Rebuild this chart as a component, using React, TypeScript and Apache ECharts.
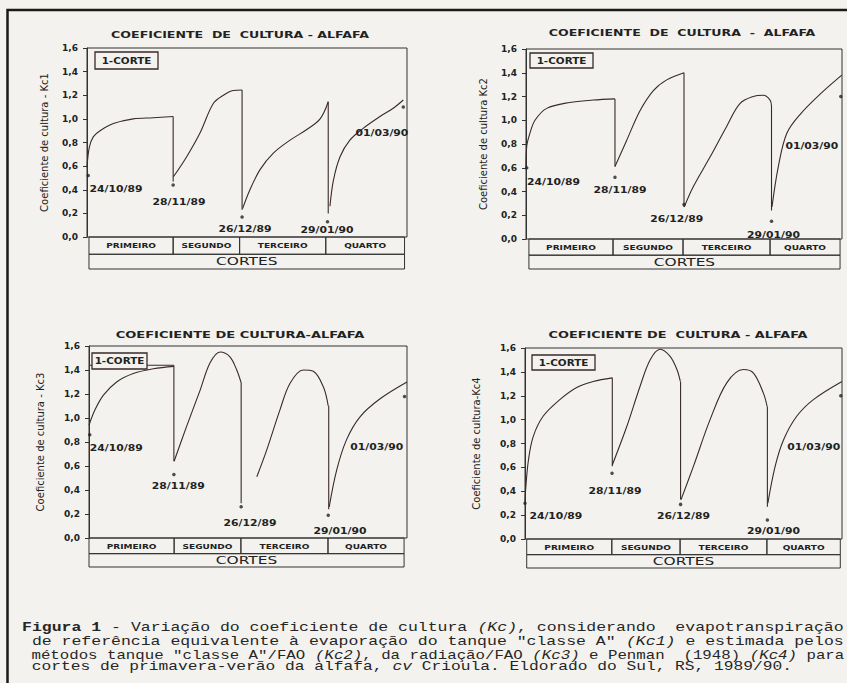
import React, { useEffect, useRef } from "react";
import * as echarts from "echarts";

// ---------- shared labels ----------
const periodLabels = ["PRIMEIRO", "SEGUNDO", "TERCEIRO", "QUARTO"];
const groupLabel = "CORTES";
const dateLabels = ["24/10/89", "28/11/89", "26/12/89", "29/01/90", "01/03/90"];
const legendLabel = "1-CORTE";
const panelTitles = [
  "COEFICIENTE  DE  CULTURA - ALFAFA",
  "COEFICIENTE  DE  CULTURA  -  ALFAFA",
  "COEFICIENTE DE CULTURA-ALFAFA",
  "COEFICIENTE DE  CULTURA - ALFAFA",
];
const yNames = [
  "Coeficiente de cultura - Kc1",
  "Coeficiente de cultura Kc2",
  "Coeficiente de cultura - Kc3",
  "Coeficiente de cultura-Kc4",
];
const yMin = 0;
const yMax = 1.6;
const yStep = 0.2;
const dayMax = 130; // days after 24/10/89

// ---------- Kc1 (tanque classe A) ----------
const kc1Segments = [
  [[0, 0.59], [0.95, 0.76], [2.6, 0.85], [5.3, 0.9], [10.7, 0.96], [18.8, 1.0], [26.9, 1.01], [35, 1.02]],
  [[35.1, 0.51], [40.5, 0.68], [45.9, 0.88], [51.3, 1.13], [55.4, 1.2], [59.4, 1.24], [63, 1.245]],
  [[63.2, 0.24], [66.2, 0.4], [70.3, 0.57], [75.7, 0.71], [82.5, 0.82], [89.3, 0.91], [94.7, 1.0], [98, 1.145]],
  [[98.7, 0.26], [100.1, 0.48], [102.8, 0.68], [106.8, 0.82], [112.2, 0.92], [119, 1.02], [124.4, 1.09], [128.5, 1.16]],
];
const kc1Drops = [[35, 1.02, 0.47], [63, 1.245, 0.23], [98, 1.145, 0.2]];
const kc1Marks = [[0.5, 0.52], [35, 0.44], [63, 0.17], [97.7, 0.13], [128.5, 1.1]];
const kc1LabelAt = [[1, 0.41], [37.4, 0.3], [64.2, 0.07], [97.5, 0.06], [119.8, 0.88]];
const kc1Periods = [0.8, 35, 62, 97, 129];

// ---------- Kc2 (tanque classe A / FAO) ----------
const kc2Segments = [
  [[0, 0.6], [0.3, 0.78], [1.6, 0.89], [3.7, 1.0], [8.5, 1.1], [18, 1.15], [27.6, 1.17], [36.6, 1.18]],
  [[36.6, 0.61], [41.4, 0.83], [46.9, 1.08], [52.4, 1.25], [57.9, 1.34], [65, 1.4]],
  [[65.1, 0.27], [68.8, 0.44], [75.7, 0.69], [82.6, 0.95], [88, 1.14], [93.5, 1.2], [97.7, 1.21], [100.4, 1.17], [101, 1.12]],
  [[101.2, 0.27], [103.8, 0.61], [107.3, 0.89], [112.8, 1.05], [121, 1.22], [129.9, 1.38]],
];
const kc2Drops = [[36.6, 1.18, 0.61], [65, 1.4, 0.27], [101, 1.12, 0.24]];
const kc2Marks = [[0.3, 0.6], [36.6, 0.52], [65, 0.29], [101, 0.15], [129.5, 1.2]];
const kc2LabelAt = [[0.4, 0.48], [38.7, 0.41], [62, 0.17], [101.8, 0.03], [117.6, 0.78]];
const kc2Periods = [1.2, 35.8, 64.6, 100.4, 129.2];

// ---------- Kc3 (radiação / FAO) ----------
const kc3Segments = [
  [[0, 0.94], [2.5, 1.07], [5.9, 1.19], [11.3, 1.3], [18.1, 1.37], [26.3, 1.41], [34.7, 1.43]],
  [[34.8, 0.64], [39.9, 0.93], [45.4, 1.23], [49.5, 1.46], [53.6, 1.55], [57.6, 1.51], [60.4, 1.4], [62.1, 1.3]],
  [[68.6, 0.51], [72.6, 0.73], [78.1, 1.07], [82.2, 1.29], [87.6, 1.4], [91.7, 1.39], [95.8, 1.26], [97.8, 1.1]],
  [[98.2, 0.26], [101.3, 0.57], [105.3, 0.82], [110.8, 1.01], [119, 1.16], [130, 1.3]],
];
const kc3Plateau = [[0, 1.44], [34.7, 1.44]];
const kc3Drops = [[34.7, 1.44, 0.64], [62.2, 1.3, 0.29], [98, 1.1, 0.24]];
const kc3Marks = [[0.3, 0.86], [34.7, 0.53], [62.2, 0.26], [97.8, 0.19], [129, 1.18]];
const kc3LabelAt = [[0.3, 0.75], [36.5, 0.43], [65.8, 0.125], [102.6, 0.055], [117.6, 0.76]];
const kc3Periods = [0, 34.8, 62.1, 97.7, 128.8];

// ---------- Kc4 (Penman) ----------
const kc4Segments = [
  [[0, 0.3], [0.25, 0.41], [1.4, 0.66], [3.4, 0.86], [7.5, 1.03], [14.4, 1.17], [21.2, 1.27], [28, 1.32], [35.8, 1.35]],
  [[35.8, 0.62], [41.7, 0.94], [47.2, 1.28], [51.3, 1.5], [55.4, 1.59], [59.5, 1.53], [62.3, 1.42], [63.7, 1.32]],
  [[64, 0.33], [69.1, 0.61], [75.9, 1.0], [82.8, 1.31], [89.6, 1.42], [93.7, 1.39], [97.8, 1.22], [99.3, 1.11]],
  [[99.6, 0.3], [102.6, 0.61], [106, 0.83], [111.5, 1.03], [118.4, 1.17], [130, 1.32]],
];
const kc4Drops = [[35.8, 1.35, 0.61], [63.8, 1.32, 0.33], [99.4, 1.11, 0.27]];
const kc4Marks = [[0, 0.3], [35.7, 0.55], [63.8, 0.29], [99.4, 0.16], [129.5, 1.2]];
const kc4LabelAt = [[1.8, 0.195], [36.9, 0.4], [65, 0.19], [101.9, 0.064], [118.4, 0.77]];
const kc4Periods = [0.7, 35.6, 63.6, 99.2, 129.3];

// ---------- caption ----------
const captionLines = [
  "{b|Figura 1} - Variação do coeficiente de cultura {i|(Kc)}, considerando  evapotranspiração",
  ' de referência equivalente à evaporação do tanque "classe A" {i|(Kc1)} e estimada pelos',
  ' métodos tanque "classe A"/FAO {i|(Kc2)}, da radiação/FAO {i|(Kc3)} e Penman  (1948) {i|(Kc4)} para',
  " cortes de primavera-verão da alfafa, {i|cv} Crioula. Eldorado do Sul, RS, 1989/90.",
];

// ---------- layout (pixels) ----------
const INK = "#222";
const CURVE = "#3a2a2a";
const BG = "#f3f2ee";
const layouts = [
  { grid: [87, 48, 320, 189], box: 32, title: [240, 35], legend: [95, 52, 63, 17], nameGap: 38 },
  { grid: [526, 49, 316, 190], box: 30, title: [682, 33], legend: [530, 53, 63, 15], nameGap: 38 },
  { grid: [89, 346, 318, 192], box: 29, title: [240, 335], legend: [92, 353, 55, 16], nameGap: 44 },
  { grid: [525, 348, 317, 191], box: 29, title: [678, 335], legend: [532, 355, 63, 15], nameGap: 44 },
];
const titleScale = [1.4, 1.4, 1.45, 1.43];
const captionY = [628, 642, 655, 667];
const captionFont = 12.5;
const captionScale = [1.32, 1.32, 1.26, 1.3];

const panels = [
  { segments: kc1Segments, drops: kc1Drops, marks: kc1Marks, labelAt: kc1LabelAt, periods: kc1Periods, extra: null as number[][] | null },
  { segments: kc2Segments, drops: kc2Drops, marks: kc2Marks, labelAt: kc2LabelAt, periods: kc2Periods, extra: null },
  { segments: kc3Segments, drops: kc3Drops, marks: kc3Marks, labelAt: kc3LabelAt, periods: kc3Periods, extra: kc3Plateau },
  { segments: kc4Segments, drops: kc4Drops, marks: kc4Marks, labelAt: kc4LabelAt, periods: kc4Periods, extra: null },
];

function buildOption() {
  const grid: any[] = [];
  const xAxis: any[] = [];
  const yAxis: any[] = [];
  const series: any[] = [];
  const graphic: any[] = [];
  const lineStyle = { color: CURVE, width: 1.1 };

  panels.forEach((p, k) => {
    const L = layouts[k];
    const [gl, gt, gw, gh] = L.grid;
    const gMain = 2 * k;
    const gBox = 2 * k + 1;
    grid.push({ left: gl, top: gt, width: gw, height: gh, show: true, borderColor: "#333", borderWidth: 1, backgroundColor: "transparent" });
    grid.push({ left: gl, top: gt + gh, width: gw, height: L.box, show: false });
    xAxis.push({ gridIndex: gMain, type: "value", min: 0, max: dayMax, show: false });
    xAxis.push({ gridIndex: gBox, type: "value", min: 0, max: dayMax, show: false });
    yAxis.push({
      gridIndex: gMain,
      type: "value",
      min: yMin,
      max: yMax,
      interval: yStep,
      axisLine: { show: true, lineStyle: { color: "#333" } },
      axisTick: { show: true, length: 4, lineStyle: { color: "#333" } },
      splitLine: { show: false },
      axisLabel: {
        margin: 9,
        fontSize: 9,
        fontWeight: "bold",
        fontFamily: "DejaVu Sans",
        color: INK,
        formatter: (v: number) => v.toFixed(1).replace(".", ","),
      },
      name: yNames[k],
      nameLocation: "middle",
      nameGap: L.nameGap,
      nameTextStyle: { fontSize: 10, fontFamily: "DejaVu Sans", color: INK },
    });
    yAxis.push({ gridIndex: gBox, type: "value", min: 0, max: 1, show: false });

    p.segments.forEach((seg) => {
      series.push({
        type: "line", xAxisIndex: gMain, yAxisIndex: gMain, data: seg,
        smooth: 0.35, showSymbol: false, symbol: "none", lineStyle, silent: true,
      });
    });
    if (p.extra) {
      series.push({ type: "line", xAxisIndex: gMain, yAxisIndex: gMain, data: p.extra, showSymbol: false, symbol: "none", lineStyle, silent: true });
    }
    p.drops.forEach((d) => {
      series.push({
        type: "line", xAxisIndex: gMain, yAxisIndex: gMain,
        data: [[d[0], d[1]], [d[0], d[2]]], showSymbol: false, symbol: "none", lineStyle, silent: true,
      });
    });
    series.push({
      type: "scatter", xAxisIndex: gMain, yAxisIndex: gMain, data: p.marks,
      symbolSize: 3.5, itemStyle: { color: INK }, silent: true,
    });
    series.push({
      type: "custom", xAxisIndex: gMain, yAxisIndex: gMain, data: p.labelAt, silent: true, z: 5,
      encode: { x: 0, y: 1 },
      renderItem: (params: any, api: any) => {
        const i = params.dataIndex;
        const pt = api.coord([api.value(0), api.value(1)]);
        const al = i === 0 ? "left" : "center";
        return {
          type: "text", x: pt[0], y: pt[1], scaleX: 1.35,
          style: {
            text: dateLabels[i], align: al, textAlign: al, verticalAlign: "middle", textVerticalAlign: "middle",
            font: 'bold 8px "DejaVu Sans"', fill: INK,
          },
        };
      },
    });
    // boxes below the plot
    const split = 0.46;
    const cells: any[] = [];
    for (let j = 0; j < 4; j++) cells.push([p.periods[j], p.periods[j + 1], split, 1]);
    cells.push([p.periods[0], p.periods[4], 0, split]);
    const cellText = [...periodLabels, groupLabel];
    series.push({
      type: "custom", xAxisIndex: gBox, yAxisIndex: gBox, data: cells, silent: true,
      encode: { x: [0, 1], y: [2, 3] },
      renderItem: (params: any, api: any) => {
        const i = params.dataIndex;
        const a = api.coord([api.value(0), api.value(3)]);
        const b = api.coord([api.value(1), api.value(2)]);
        const big = i === 4;
        return {
          type: "group",
          children: [
            { type: "rect", shape: { x: a[0], y: a[1], width: b[0] - a[0], height: b[1] - a[1] }, style: { fill: "none", stroke: "#333", lineWidth: 1 } },
            {
              type: "text", x: (a[0] + b[0]) / 2, y: (a[1] + b[1]) / 2, scaleX: big ? 1.4 : 1.2,
              style: {
                text: cellText[i], align: "center", textAlign: "center", verticalAlign: "middle", textVerticalAlign: "middle",
                font: big ? '11px "DejaVu Sans"' : 'bold 7.5px "DejaVu Sans"', fill: INK,
              },
            },
          ],
        };
      },
    });

    // title
    graphic.push({
      type: "text", x: L.title[0], y: L.title[1], scaleX: titleScale[k], z: 100,
      style: { text: panelTitles[k], align: "center", textAlign: "center", verticalAlign: "middle", textVerticalAlign: "middle", font: 'bold 9px "DejaVu Sans"', fill: INK },
    });
    // legend box
    const [lx, ly, lw, lh] = L.legend;
    graphic.push({
      type: "rect", z: 100, shape: { x: lx, y: ly, width: lw, height: lh },
      style: { fill: BG, stroke: "#3a2a2a", lineWidth: 1.3 },
    });
    graphic.push({
      type: "text", z: 101, x: lx + lw / 2, y: ly + lh / 2, scaleX: 1.3,
      style: { text: legendLabel, align: "center", textAlign: "center", verticalAlign: "middle", textVerticalAlign: "middle", font: 'bold 8px "DejaVu Sans"', fill: INK },
    });
  });

  // frame
  graphic.push({
    type: "polyline", z: 100, shape: { points: [[7.5, 683], [7.5, 10], [847, 10]] },
    style: { fill: "none", stroke: "#1a1a1a", lineWidth: 2.5 },
  });
  // caption
  const cap = { fontFamily: "Liberation Mono", fontSize: captionFont, fill: "#262626" };
  captionLines.forEach((t, i) => {
    graphic.push({
      type: "text", z: 100, x: 22, y: captionY[i], scaleX: captionScale[i],
      style: {
        text: t, align: "left", textAlign: "left", verticalAlign: "middle", textVerticalAlign: "middle",
        font: `${captionFont}px "Liberation Mono"`, fill: "#262626",
        rich: {
          b: { ...cap, fontWeight: "bold" },
          i: { ...cap, fontStyle: "italic" },
        },
      },
    });
  });

  return { animation: false, backgroundColor: BG, grid, xAxis, yAxis, series, graphic };
}

export default function App() {
  const ref = useRef<HTMLDivElement>(null);
  useEffect(() => {
    if (!ref.current) return;
    const chart = echarts.init(ref.current, undefined, { renderer: "svg" });
    chart.setOption(buildOption() as any);
    return () => chart.dispose();
  }, []);
  return <div ref={ref} style={{ position: "absolute", left: 0, top: 0, width: 847, height: 683 }} />;
}
